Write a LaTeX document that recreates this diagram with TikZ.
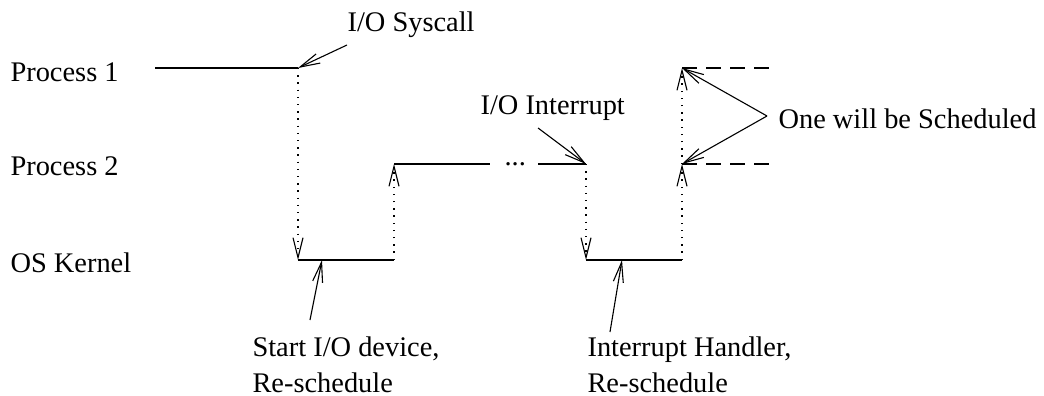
\documentclass[tikz,border=0pt]{standalone}
\usepackage{fontspec}
\setmainfont{Liberation Serif}
\usetikzlibrary{arrows.meta}
\begin{document}
\begin{tikzpicture}[x=0.5pt,y=-0.5pt,
  line width=0.55pt,
  lbl/.style={anchor=base west,inner sep=0pt,font=\fontsize{14.2}{18}\selectfont},
  solidln/.style={draw},
  dotln/.style={draw,line width=0.7pt,dash pattern=on 0.7pt off 2.9pt},
  dashln/.style={draw,dash pattern=on 7.5pt off 4.5pt},
  barb/.style={-{Straight Barb[length=10pt,width=5pt,line width=0.55pt]}}]
\useasboundingbox (0,0) rectangle (1044,396);
% coordinates
\coordinate (p1s) at (155,68);
\coordinate (sys) at (298,68);
\coordinate (k1a) at (298,260);
\coordinate (k1b) at (394,260);
\coordinate (p2a) at (394,164);
\coordinate (p2b) at (490,164);
\coordinate (p2c) at (538,164);
\coordinate (intr) at (586,164);
\coordinate (k2a) at (586,260);
\coordinate (k2b) at (682,260);
\coordinate (s2) at (682,164);
\coordinate (s1) at (682,68);
\coordinate (d1) at (778,68);
\coordinate (d2) at (778,164);
\coordinate (k1m) at (322,260);
\coordinate (k2m) at (622,260);
\coordinate (syst) at (347,45);
\coordinate (intt) at (538,128);
\coordinate (onet) at (767,116);
\coordinate (sdt) at (310,320);
\coordinate (iht) at (610,332);
% labels
\node[lbl] (lp1) at (10,81) {Process 1};
\node[lbl] (lp2) at (10,175) {Process 2};
\node[lbl] (lk) at (10,272) {OS Kernel};
\node[lbl] (lsys) at (347,32) {I/O Syscall};
\node[lbl] (lint) at (480,114) {I/O Interrupt};
\node[lbl] (lone) at (778,128) {One will be Scheduled};
\node[lbl] (sl1) at (252,356) {Start I/O device,};
\node[lbl] (sl2) at (252,392) {Re-schedule};
\node[lbl] (hl1) at (587,356) {Interrupt Handler,};
\node[lbl] (hl2) at (587,392) {Re-schedule};
\node[lbl] (dots) at (504,165) {...};
% timelines
\draw[solidln] (p1s) -- (sys);
\draw[solidln] (k1a) -- (k1b);
\draw[solidln] (p2a) -- (p2b);
\draw[solidln] (p2c) -- (intr);
\draw[solidln] (k2a) -- (k2b);
\draw[dashln] (s1) -- (d1);
\draw[dashln] (s2) -- (d2);
% transitions
\draw[dotln,barb] (sys) -- (k1a);
\draw[dotln,barb] (k1b) -- (p2a);
\draw[dotln,barb] (intr) -- (k2a);
\draw[dotln,barb] (k2b) -- (s2);
\draw[dotln,barb] (s2) -- (s1);
% annotation arrows
\draw[barb] (syst) -- (sys);
\draw[barb] (intt) -- (intr);
\draw[barb] (onet) -- (s1);
\draw[barb] (onet) -- (s2);
\draw[barb] (sdt) -- (k1m);
\draw[barb] (iht) -- (k2m);
\end{tikzpicture}
\end{document}
